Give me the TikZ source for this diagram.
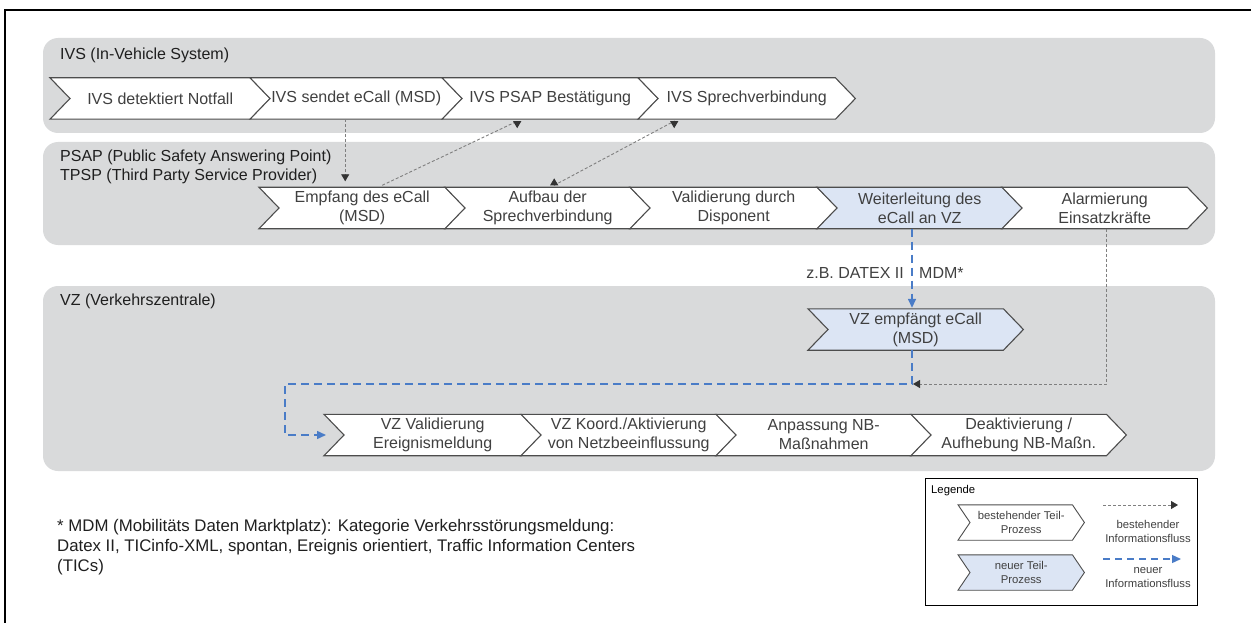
\documentclass[tikz,border=0pt]{standalone}
\usepackage{fontspec}
\setmainfont{Liberation Sans}
\usetikzlibrary{arrows.meta,calc}
\pgfdeclarelayer{lanes}
\pgfdeclarelayer{shapes}
\pgfsetlayers{lanes,shapes,main}

\definecolor{lanegray}{HTML}{D9DADB}
\definecolor{edgegray}{HTML}{4D4D4D}
\definecolor{txtgray}{HTML}{404040}
\definecolor{labelblack}{HTML}{1F1F1F}
\definecolor{newblue}{HTML}{DCE5F4}
\definecolor{flowblue}{HTML}{4A7CC7}
\definecolor{flowgray}{HTML}{7F7F7F}
\definecolor{tipgray}{HTML}{333333}

\tikzset{
  proc/.style={minimum height=41, inner sep=0pt, align=center, anchor=west,
    text=txtgray, font=\fontsize{16}{19}\selectfont},
  legproc/.style={minimum height=35, inner sep=0pt, align=center, anchor=west,
    text=txtgray, font=\fontsize{11.3}{14}\selectfont},
  chevline/.style={draw=edgegray, line width=1.1pt, line join=miter},
  lane/.style={fill=lanegray, rounded corners=15},
  lanelabel/.style={anchor=west, inner sep=0pt, align=left, text=labelblack,
    font=\fontsize{16}{19}\selectfont},
  gtip/.tip={Triangle[length=7pt,width=8pt,color=tipgray]},
  btip/.tip={Triangle[length=9pt,width=8pt,color=flowblue]},
  gflow/.style={draw=flowgray, line width=0.9pt, dash pattern=on 3pt off 2pt, -gtip},
  bflow/.style={draw=flowblue, line width=1.5pt, dash pattern=on 8pt off 5pt, -btip},
  flowtext/.style={inner sep=0pt, text=txtgray, font=\fontsize{16}{19}\selectfont},
  legtext/.style={inner sep=0pt, align=center, text=txtgray,
    font=\fontsize{11.3}{14}\selectfont},
}

\begin{document}
\begin{tikzpicture}[x=1pt,y=-1pt]
\useasboundingbox (0,0) rectangle (1251,623);

% outer frame (top and left edge)
\draw[line width=1.6pt] (5,623) -- (5,10) -- (1251,10);

% swimlanes
\begin{pgfonlayer}{lanes}
  \path[lane] (43,38) rectangle (1215,133);
  \path[lane] (43,142) rectangle (1215,245);
  \path[lane] (43,286) rectangle (1215,471);
\end{pgfonlayer}

\node[lanelabel] (lIVS) at (60,55) {IVS (In-Vehicle System)};
\node[lanelabel] (lPSAP) at (60,166.5) {PSAP (Public Safety Answering Point)\\TPSP (Third Party Service Provider)};
\node[lanelabel] (lVZ) at (60,301) {VZ (Verkehrszentrale)};

% IVS processes (node box = notch corner to arrow tip)
\node[proc, minimum width=220] (i1) at (50,98.5) {IVS detektiert Notfall};
\node[proc, minimum width=212] (i2) at (250,98.5) {IVS sendet eCall (MSD)};
\node[proc, minimum width=216] (i3) at (442,98.5) {IVS PSAP Bestätigung};
\node[proc, minimum width=217] (i4) at (638,98.5) {IVS Sprechverbindung};

% PSAP / TPSP processes
\node[proc, minimum width=206] (p1) at (259,208) {Empfang des eCall\\(MSD)};
\node[proc, minimum width=205] (p2) at (445,208) {Aufbau der\\Sprechverbindung};
\node[proc, minimum width=207] (p3) at (630,208) {Validierung durch\\Disponent};
\node[proc, minimum width=205] (p4) at (817,208) {Weiterleitung des\\eCall an VZ};
\node[proc, minimum width=205] (p5) at (1002,208) {Alarmierung\\Einsatzkräfte};

% VZ processes
\node[proc, minimum width=215] (v0) at (808,329.5) {VZ empfängt eCall\\(MSD)};
\node[proc, minimum width=217] (v1) at (324,435) {VZ Validierung\\Ereignismeldung};
\node[proc, minimum width=215] (v2) at (521,435) {VZ Koord./Aktivierung\\von Netzbeeinflussung};
\node[proc, minimum width=215] (v3) at (716,435) {Anpassung NB-\\Maßnahmen};
\node[proc, minimum width=215] (v4) at (911,435) {Deaktivierung /\\Aufhebung NB-Maßn.};

% legend
\draw[line width=0.9pt] (925,478) rectangle (1197,605);
\node[anchor=west, inner sep=0pt, font=\fontsize{11.3}{14}\selectfont] (leg) at (931,491) {Legende};
\node[legproc, minimum width=126] (lc1) at (958,522.5) {bestehender Teil-\\Prozess};
\node[legproc, minimum width=126] (lc2) at (958,572.5) {neuer Teil-\\Prozess};

% chevron outlines
\begin{pgfonlayer}{shapes}
  \foreach \n/\f in {i1/white,i2/white,i3/white,i4/white,
                     p1/white,p2/white,p3/white,p4/newblue,p5/white,
                     v0/newblue,v1/white,v2/white,v3/white,v4/white}{
    \draw[chevline, fill=\f]
      (\n.north west) -- ($(\n.north east)+(-20,0)$) -- (\n.east)
      -- ($(\n.south east)+(-20,0)$) -- (\n.south west) -- ($(\n.west)+(20,0)$) -- cycle;
  }
  \foreach \n/\f in {lc1/white,lc2/newblue}{
    \draw[chevline, line width=0.9pt, fill=\f]
      (\n.north west) -- ($(\n.north east)+(-12,0)$) -- (\n.east)
      -- ($(\n.south east)+(-12,0)$) -- (\n.south west) -- ($(\n.west)+(12,0)$) -- cycle;
  }
\end{pgfonlayer}

% existing information flows between vehicle and answering point
\draw[gflow, shorten >=6pt] ([xshift=-11]i2.south) -- ([xshift=-11]i2.south |- p1.north);
\draw[gflow] ([xshift=20,yshift=2]p1.north)
  -- ([xshift=-33,yshift=-2]i3.south) -- ([xshift=-33,yshift=-9]i3.south);
\draw[gflow, gtip-gtip] ([xshift=6.5,yshift=9]p2.north) -- ([xshift=6.5,yshift=2]p2.north)
  -- ([xshift=-72.5,yshift=-2]i4.south) -- ([xshift=-72.5,yshift=-9]i4.south);

% new information flow to the traffic centre
\coordinate (bx) at (912,0);
\coordinate (vbend) at (285,384);
\draw[bflow, shorten >=1pt] (p4.south -| bx) -- (v0.north -| bx);
\node[flowtext, anchor=east] (datex) at (904,273) {z.B. DATEX II};
\node[flowtext, anchor=west] (mdm) at (919,273) {MDM*};
\draw[bflow] (v0.south -| bx) -- (bx |- vbend) -- (vbend) |- ([xshift=2]v1.west);
\draw[gflow, shorten >=1pt] ([xshift=1.5]p5.south) -- ([xshift=1.5]p5.south |- vbend) -- (bx |- vbend);

% legend flows
\coordinate (lg1) at (1103,505);
\coordinate (lg2) at (1178,505);
\coordinate (lb1) at (1103,559);
\coordinate (lb2) at (1181,559);
\draw[gflow, line width=0.8pt] (lg1) -- (lg2);
\draw[bflow, line width=1.3pt, dash pattern=on 7pt off 5pt] (lb1) -- (lb2);
\node[legtext] (lgt) at (1148,531) {bestehender\\Informationsfluss};
\node[legtext] (lbt) at (1148,578) {neuer\\Informationsfluss};

% footnote
\node[anchor=north west, inner sep=0pt, align=left, text=labelblack,
      font=\fontsize{16.8}{20}\selectfont] (note) at (57,519)
  {* MDM (Mobilitäts Daten Marktplatz): Kategorie Verkehrsstörungsmeldung:\\
   Datex II, TICinfo-XML, spontan, Ereignis orientiert, Traffic Information Centers\\
   (TICs)};
\end{tikzpicture}
\end{document}
